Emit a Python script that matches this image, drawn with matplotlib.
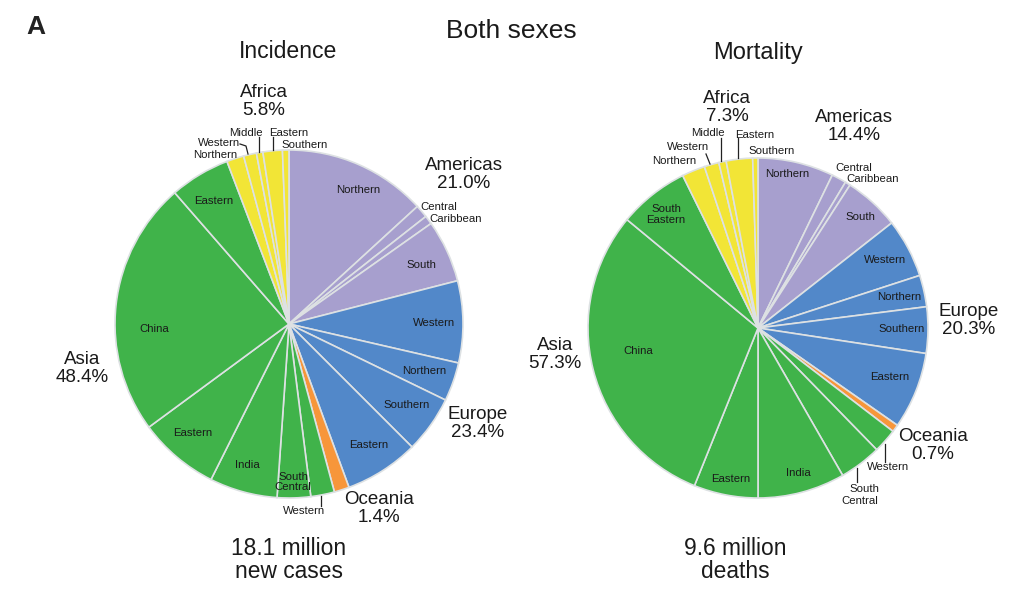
import matplotlib
matplotlib.use('Agg')
import matplotlib.pyplot as plt

plt.rcParams['font.family'] = ['Liberation Sans', 'DejaVu Sans']

# percent of the world total, clockwise from 12 o'clock
# Americas, Europe, Oceania, Asia, Africa
inc_americas = [13.2, 1.2, 0.8, 5.8]
inc_europe = [7.6, 3.6, 5.3, 6.9]
inc_oceania = [1.4]
inc_asia = [2.2, 3.1, 6.3, 7.5, 23.7, 5.6]
inc_africa = [1.6, 1.2, 0.6, 1.8, 0.6]

mort_americas = [7.2, 1.4, 0.5, 5.3]
mort_europe = [5.6, 3.0, 4.4, 7.3]
mort_oceania = [0.7]
mort_asia = [2.3, 4.0, 8.3, 6.1, 29.9, 6.7]
mort_africa = [2.2, 1.4, 0.7, 2.5, 0.5]

PURPLE = '#a79fce'
BLUE = '#5288c9'
ORANGE = '#f7963a'
GREEN = '#40b34a'
YELLOW = '#f2e536'
EDGE = '#dde1e3'

W, H = 1011, 600
fig = plt.figure(figsize=(W / 100, H / 100), dpi=100)


def draw_pie(cx, cy, r, groups):
    pad = 1.02
    ax = fig.add_axes([(cx - r * pad) / W, 1 - (cy + r * pad) / H, 2 * r * pad / W, 2 * r * pad / H])
    values, colors = [], []
    for vals, col in groups:
        values += vals
        colors += [col] * len(vals)
    ax.pie(values, colors=colors, startangle=90, counterclock=False, normalize=True,
           wedgeprops={'edgecolor': EDGE, 'linewidth': 1.2})
    ax.set_xlim(-pad, pad)
    ax.set_ylim(-pad, pad)


def txt(x, y, s, size=8, **kw):
    # nudge down a little, va center counts the descender room
    fig.text(x / W, 1 - (y + 1.5) / H, s, fontsize=size, ha='center', va='center',
             color=kw.pop('color', '#1a1a1a'), **kw)


def tick(xs, ys):
    fig.add_artist(plt.Line2D([x / W for x in xs], [1 - y / H for y in ys], color='#222222', lw=0.9))


draw_pie(289, 324, 174, [(inc_americas, PURPLE), (inc_europe, BLUE), (inc_oceania, ORANGE),
                         (inc_asia, GREEN), (inc_africa, YELLOW)])
draw_pie(758, 328, 170, [(mort_americas, PURPLE), (mort_europe, BLUE), (mort_oceania, ORANGE),
                         (mort_asia, GREEN), (mort_africa, YELLOW)])

txt(36, 25, 'A', 19, fontweight='bold', color='#222222')
txt(511, 29, 'Both sexes', 19)
txt(288, 50, 'Incidence', 16.6)
txt(758, 52, 'Mortality', 17)

# big labels, left
for x, y, a, b in [(264, 91, 'Africa', '5.8%'), (464, 164, 'Americas', '21.0%'), (82, 358, 'Asia', '48.4%'),
                   (478, 413, 'Europe', '23.4%'), (379, 498, 'Oceania', '1.4%'),
                   (289, 547, '18.1 million', 'new cases')]:
    size = 16.4 if 'million' in a else 13.5
    gap = 23 if 'million' in a else 18
    txt(x, y, a, size)
    txt(x, y + gap, b, size)

# big labels, right
for x, y, a, b in [(727, 97, 'Africa', '7.3%'), (854, 116, 'Americas', '14.4%'), (555, 344, 'Asia', '57.3%'),
                   (969, 310, 'Europe', '20.3%'), (933, 435, 'Oceania', '0.7%'),
                   (735, 547, '9.6 million', 'deaths')]:
    size = 16.4 if 'million' in a else 13.5
    gap = 23 if 'million' in a else 18
    txt(x, y, a, size)
    txt(x, y + gap, b, size)

# small labels, left
for x, y, s in [(246, 132, 'Middle'), (289, 132, 'Eastern'), (305, 144, 'Southern'), (219, 143, 'Western'),
                (215, 154, 'Northern'), (439, 207, 'Central'), (456, 218, 'Caribbean'), (358, 189, 'Northern'),
                (421, 264, 'South'), (434, 322, 'Western'), (424, 370, 'Northern'), (407, 405, 'Southern'),
                (369, 444, 'Eastern'), (154, 328, 'China'), (214, 201, 'Eastern'), (193, 432, 'Eastern'),
                (247, 464, 'India'), (293, 476, 'South'), (293, 487, 'Central'), (304, 511, 'Western')]:
    txt(x, y - 1, s, 8.2)

# small labels, right
for x, y, s in [(708, 133, 'Middle'), (755, 134, 'Eastern'), (772, 150, 'Southern'), (688, 146, 'Western'),
                (674, 161, 'Northern'), (787, 174, 'Northern'), (854, 168, 'Central'), (873, 179, 'Caribbean'),
                (860, 216, 'South'), (885, 260, 'Western'), (899, 297, 'Northern'), (902, 329, 'Southern'),
                (890, 377, 'Eastern'), (638, 350, 'China'), (666, 209, 'South'), (666, 220, 'Eastern'),
                (731, 478, 'Eastern'), (798, 473, 'India'), (888, 467, 'Western'), (864, 489, 'South'),
                (860, 500, 'Central')]:
    txt(x, y - 1, s, 8.2)

# leader lines
tick([259, 259], [137, 152])
tick([273, 273], [137, 150])
tick([240, 246, 248], [144, 146, 154])
tick([321, 321], [496, 506])
tick([721, 721], [138, 161])
tick([738, 738], [138, 158])
tick([706, 710], [154, 164])
tick([885, 885], [444, 462])
tick([857, 857], [468, 482])

fig.savefig('out.png', dpi=100)
